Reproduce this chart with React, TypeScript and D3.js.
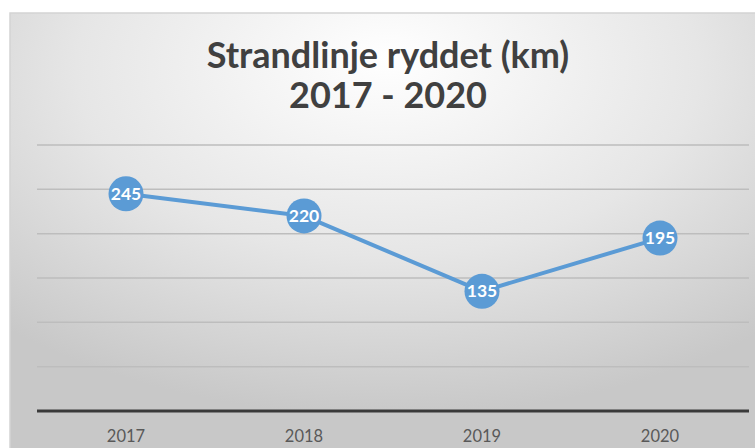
import React from "react";
import * as d3 from "d3";

const years = ["2017", "2018", "2019", "2020"];
const values = [245, 220, 135, 195];
const yTicks = [0, 50, 100, 150, 200, 250, 300];
const titleLines = ["Strandlinje ryddet (km)", "2017 - 2020"];

const W = 755;
const H = 448;
const plot = { left: 37, right: 749, top: 145, bottom: 411 };

export default function App() {
  const x = d3.scaleBand<string>().domain(years).range([plot.left, plot.right]);
  const y = d3.scaleLinear().domain([0, 300]).range([plot.bottom, plot.top]);
  const line = d3
    .line<number>()
    .x((_, i) => (x(years[i]) as number) + x.bandwidth() / 2)
    .y((d) => y(d));
  const font = "Lato, 'Open Sans', sans-serif";
  return (
    <svg
      width={W}
      height={H}
      style={{ position: "absolute", left: 0, top: 0, display: "block" }}
    >
      <defs>
        <radialGradient id="bg" cx="0.5" cy="0.15" r="0.75" fx="0.5" fy="0.1">
          <stop offset="0" stopColor="#ffffff" />
          <stop offset="0.55" stopColor="#e6e6e6" />
          <stop offset="1" stopColor="#c8c8c8" />
        </radialGradient>
      </defs>
      <rect x={0} y={0} width={W} height={H} fill="#ffffff" />
      <rect x={10} y={13} width={W} height={H} fill="url(#bg)" stroke="#d4d4d4" strokeWidth={1.5} />
      {titleLines.map((t, i) => (
        <text
          key={t}
          x={388}
          y={68 + i * 40}
          textAnchor="middle"
          fontFamily={font}
          fontWeight={700}
          fontSize={36}
          fill="#404040"
        >
          {t}
        </text>
      ))}
      {yTicks
        .filter((t) => t > 0)
        .map((t) => (
          <line
            key={t}
            x1={plot.left}
            x2={plot.right}
            y1={y(t)}
            y2={y(t)}
            stroke="#bdbdbd"
            strokeWidth={1.5}
          />
        ))}
      <line
        x1={plot.left}
        x2={plot.right}
        y1={y(0)}
        y2={y(0)}
        stroke="#3a3a3a"
        strokeWidth={3}
      />
      {years.map((yr) => (
        <text
          key={yr}
          x={(x(yr) as number) + x.bandwidth() / 2}
          y={442}
          textAnchor="middle"
          fontFamily={font}
          fontSize={16.5}
          fill="#595959"
        >
          {yr}
        </text>
      ))}
      <path d={line(values) || ""} fill="none" stroke="#5b9bd5" strokeWidth={4} strokeLinejoin="round" />
      {values.map((v, i) => {
        const cx = (x(years[i]) as number) + x.bandwidth() / 2;
        const cy = y(v);
        return (
          <g key={i}>
            <circle cx={cx} cy={cy} r={17.5} fill="#5b9bd5" />
            <text
              x={cx}
              y={cy + 6}
              textAnchor="middle"
              fontFamily={font}
              fontWeight={700}
              fontSize={17.5}
              fill="#ffffff"
            >
              {v}
            </text>
          </g>
        );
      })}
    </svg>
  );
}
